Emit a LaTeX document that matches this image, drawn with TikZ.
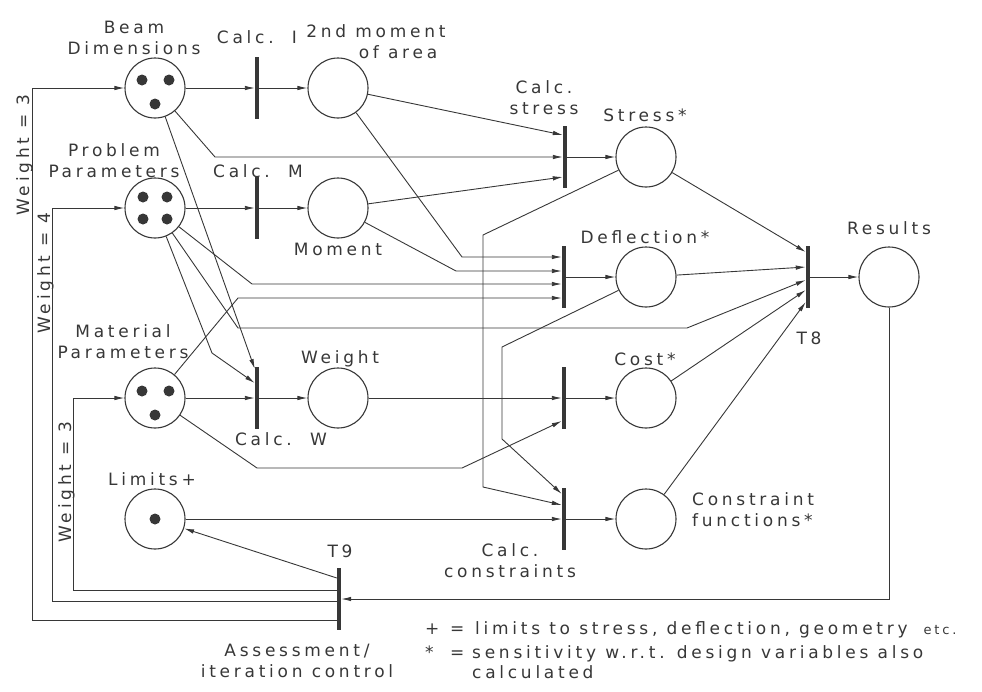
\documentclass[tikz,border=0pt]{standalone}
\usepackage{fontspec}
\setmainfont[LetterSpace=22]{DejaVu Sans}
\usetikzlibrary{arrows.meta,positioning}
\definecolor{ink}{RGB}{55,55,55}
\tikzset{place/.style={draw=ink,circle,line width=1.1pt,
                       minimum size=60pt,inner sep=0pt}}
\tikzset{trans/.style={fill=ink,rectangle,minimum width=4pt,
                       minimum height=62pt,inner sep=0pt}}
\tikzset{token/.style={fill=ink,circle,minimum size=11pt,inner sep=0pt}}
\tikzset{arc/.style={draw=ink,line width=0.9pt,
                     -{Latex[length=10pt,width=4.5pt]}}}
\tikzset{lbl/.style={text=ink,align=center,inner sep=0pt,anchor=base}}
\tikzset{foot/.style={text=ink,inner sep=0pt,anchor=base west}}

\begin{document}
\begin{tikzpicture}[x=1pt,y=-1pt,font=\fontsize{17}{20.5}\selectfont]
    \useasboundingbox (0,0) rectangle (982,691);
    % Draw places
    \foreach \name/\x/\y in {beam/155/88,prob/155/208,mat/155/398,lim/155/519,
                             mom2/338/88,mom/338/208,wt/338/398,
                             stress/646/157,defl/646/277,cost/646/398,
                             cf/646/519,res/889/277}{%
          \node[place] (\name) at (\x,\y) {};
        }
    % Draw transitions
    \foreach \name/\x/\y in {cI/257/88,cM/257/208,cW/257/398,cS/565/157,
                             cD/564/277,cC/564/398,cK/564/519,
                             t8/808/277,t9/339/599}{%
          \node[trans] (\name) at (\x,\y) {};
        }
    % Tokens in the input places
    \foreach \x/\y [count=\i] in {142/80,169/80,155/104,
                                  143/197,167/197,143/219,167/219,
                                  142/391,169/391,155/415,155/519}{%
          \node[token] (tok\i) at (\x,\y) {};
        }
    % Calc. I, Calc. M and Calc. W
    \draw[arc] (beam) -- (cI);
    \draw[arc] (cI) -- (mom2);
    \draw[arc] (prob) -- (cM);
    \draw[arc] (cM) -- (mom);
    \draw[arc] (mat) -- (cW);
    \draw[arc] (cW) -- (wt);
    \draw[arc] (beam) -- ([yshift=29pt]cW.west);
    \draw[arc] (prob) -- (212,353) -- ([yshift=15pt]cW.west);
    % Calc. stress
    \draw[arc] (mom2) -- ([yshift=22pt]cS.west);
    \draw[arc] (beam) -- (215,157) -- (cS.west);
    \draw[arc] (mom) -- ([yshift=-20pt]cS.west);
    \draw[arc] (cS) -- (stress);
    % Deflection
    \draw[arc] (mom2) -- (462,257) -- ([yshift=20pt]cD.west);
    \draw[arc] (mom) -- (456,271) -- ([yshift=6pt]cD.west);
    \draw[arc] (prob) -- (252,284) -- ([yshift=-7pt]cD.west);
    \draw[arc] (mat) -- (238,298) -- ([yshift=-21pt]cD.west);
    \draw[arc] (cD) -- (defl);
    % Cost
    \draw[arc] (wt) -- (cC);
    \draw[arc] (mat) -- (257,468) -- (462,468) -- ([yshift=-23pt]cC.west);
    \draw[arc] (cC) -- (cost);
    % Calc. constraints
    \draw[arc] (stress) -- (483,235) -- (483,487) -- ([yshift=14pt]cK.west);
    \draw[arc] (defl) -- (502,347) -- (502,439) -- ([yshift=25pt]cK.west);
    \draw[arc] (lim) -- (cK);
    \draw[arc] (cK) -- (cf);
    % T8 and results
    \draw[arc] (stress) -- ([yshift=25pt]t8.west);
    \draw[arc] (defl) -- ([yshift=10pt]t8.west);
    \draw[arc] (prob) -- (238,328) -- (687,328) -- ([yshift=-3pt]t8.west);
    \draw[arc] (cost) -- ([yshift=-13pt]t8.west);
    \draw[arc] (cf) -- ([yshift=-25pt]t8.west);
    \draw[arc] (t8) -- (res);
    % Feedback through T9
    \draw[arc] (res) -- (res |- t9) -- (t9);
    \draw[arc] ([yshift=21pt]t9.west) -- (lim);
    \draw[arc] ([yshift=-21pt]t9.west) -- (32,620) -- (32,88) -- (beam);
    \draw[arc] ([yshift=-2pt]t9.west) -- (52,601) -- (52,208) -- (prob);
    \draw[arc] ([yshift=9pt]t9.west) -- (73,590) -- (73,398) -- (mat);
    % Labels
    \node[lbl] (lbeam) at (134,54) {Beam\\Dimensions};
    \node[lbl] (lprob) at (114,177) {Problem\\Parameters};
    \node[lbl] (lmat) at (123,358) {Material\\Parameters};
    \node[lbl] (llim) at (152,485) {Limits+};
    \node[lbl] (lcI) at (257,43) {Calc.~~I};
    \node[lbl] (lcM) at (258,177) {Calc.~~M};
    \node[lbl] (lcW) at (281,445) {Calc.~~W};
    \node[lbl] (lmom2) at (376,58) {2nd moment\\\hspace*{44pt}of area};
    \node[lbl] (lmom) at (338,255) {Moment};
    \node[lbl] (lwt) at (340,363) {Weight};
    \node[lbl] (lcS) at (544,114) {Calc.\\stress};
    \node[lbl] (lstress) at (645,121) {Stress*};
    \node[lbl] (ldefl) at (645,243) {Deflection*};
    \node[lbl] (lcost) at (645,365) {Cost*};
    \node[lbl] (lcK) at (510,577) {Calc.\\constraints};
    \node[lbl,align=left,anchor=base west] (lcf) at (692,526) {Constraint\\functions*};
    \node[lbl] (lres) at (889,234) {Results};
    \node[lbl] (lt8) at (809,344) {T8};
    \node[lbl] (lt9) at (340,557) {T9};
    \node[lbl] (lt9b) at (297,677) {Assessment/\\iteration control};
    \node[lbl,rotate=90] (lw1) at (29,155) {Weight = 3};
    \node[lbl,rotate=90] (lw2) at (50,273) {Weight = 4};
    \node[lbl,rotate=90] (lw3) at (71,482) {Weight = 3};
    % Footnotes
    \node[foot] (foot1) at (425,634) {\makebox[25pt][l]{+}\makebox[25pt][l]{=}limits
        to stress, deflection, geometry\hspace{16pt}{\fontsize{13}{15}\selectfont etc.}};
    \node[foot] (foot2) at (425,658) {\makebox[25pt][l]{*}\makebox[22pt][l]{=}sensitivity
        w.r.t. design variables also};
    \node[foot] (foot3) at (472,678) {calculated};
\end{tikzpicture}
\end{document}
